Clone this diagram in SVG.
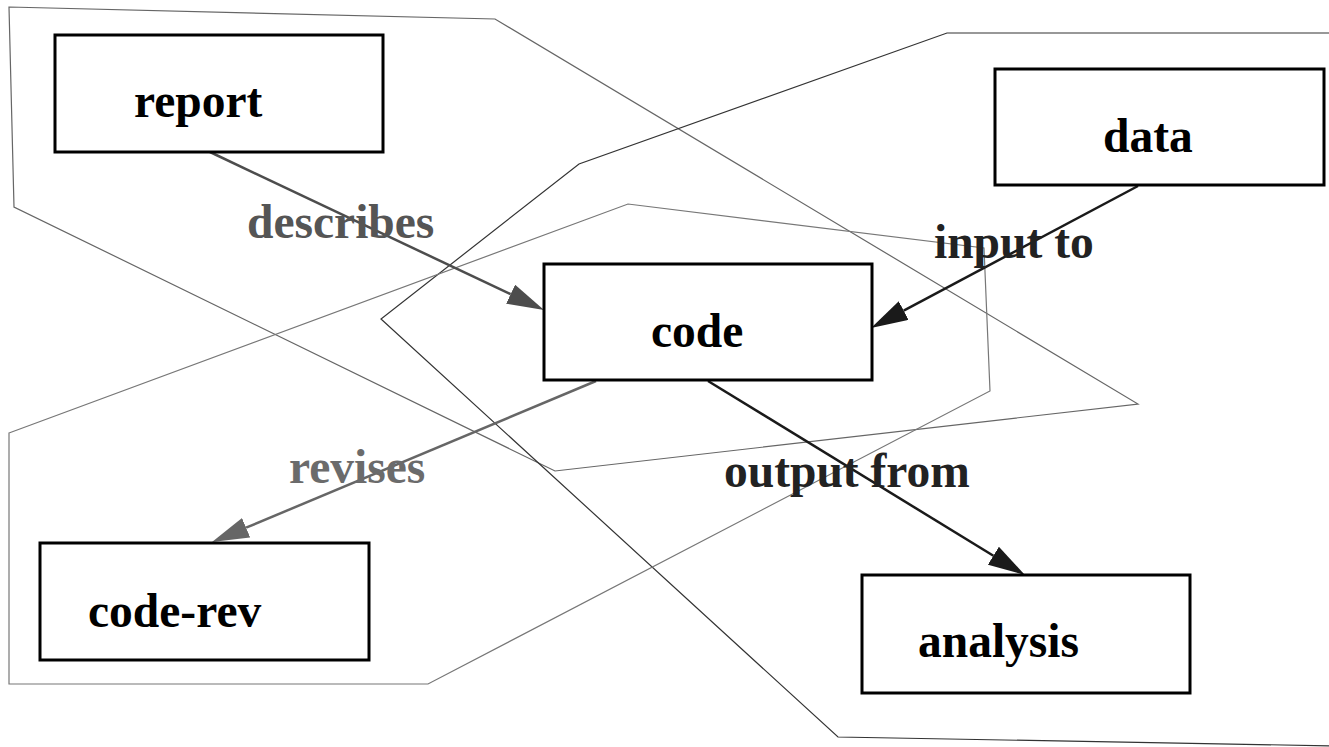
<svg xmlns="http://www.w3.org/2000/svg" width="1329" height="747" viewBox="0 0 1329 747">
  <style>
    .node rect { fill: #ffffff; stroke: #000000; stroke-width: 3; }
    .node text { font-family: "Liberation Serif", serif; font-weight: bold; font-size: 47.5px; fill: #000000; }
    .hull { fill: none; stroke-linejoin: miter; }
    .edge { fill: none; stroke-width: 2.5; }
    .elabel { font-family: "Liberation Serif", serif; font-weight: bold; font-size: 47.5px; }
  </style>
  <defs>
    <!-- arrowheads: base sits on the line end, tip points along the line -->
    <marker id="arr-mid" viewBox="0 0 10 10" refX="0" refY="5" markerWidth="37" markerHeight="21" markerUnits="userSpaceOnUse" orient="auto" preserveAspectRatio="none">
      <path d="M0,0 L10,5 L0,10 z" fill="#4d4d4d"/>
    </marker>
    <marker id="arr-dark" viewBox="0 0 10 10" refX="0" refY="5" markerWidth="37" markerHeight="21" markerUnits="userSpaceOnUse" orient="auto" preserveAspectRatio="none">
      <path d="M0,0 L10,5 L0,10 z" fill="#1a1a1a"/>
    </marker>
    <marker id="arr-light" viewBox="0 0 10 10" refX="0" refY="5" markerWidth="37" markerHeight="21" markerUnits="userSpaceOnUse" orient="auto" preserveAspectRatio="none">
      <path d="M0,0 L10,5 L0,10 z" fill="#666666"/>
    </marker>
  </defs>

  <rect width="1329" height="747" fill="#ffffff"/>

  <!-- group outlines -->
  <g id="hulls">
    <polygon class="hull" stroke="#666666" stroke-width="1.2" points="9,7 495,19 1138,404 555,471 14,207"/>
    <polyline class="hull" stroke="#333333" stroke-width="1.2" points="1340,33 947,33 579,164 381,319 838,737 1340,746"/>
    <polygon class="hull" stroke="#777777" stroke-width="1.2" points="9,433 628,204 984,248 990,391 428,684 9,684"/>
  </g>

  <!-- connectors -->
  <g id="edges">
    <line class="edge" stroke="#4d4d4d" x1="210" y1="152" x2="510.6" y2="294.2" marker-end="url(#arr-mid)"/>
    <line class="edge" stroke="#1a1a1a" x1="1138" y1="186" x2="903.7" y2="310.6" marker-end="url(#arr-dark)"/>
    <line class="edge" stroke="#666666" x1="596" y1="381" x2="246.1" y2="527.7" marker-end="url(#arr-light)"/>
    <line class="edge" stroke="#1a1a1a" x1="708" y1="381" x2="993.4" y2="555.7" marker-end="url(#arr-dark)"/>
    <text class="elabel" fill="#555555" x="247" y="238">describes</text>
    <text class="elabel" fill="#222222" x="934" y="258">input to</text>
    <text class="elabel" fill="#6b6b6b" x="289" y="483">revises</text>
    <text class="elabel" fill="#222222" x="724" y="487">output from</text>
  </g>

  <g id="report" class="node">
    <rect x="55" y="35" width="328" height="117"/>
    <text x="134" y="117">report</text>
  </g>
  <g id="data" class="node">
    <rect x="995" y="69" width="329" height="116"/>
    <text x="1103" y="152">data</text>
  </g>
  <g id="code" class="node">
    <rect x="544" y="264" width="328" height="116"/>
    <text x="651" y="347">code</text>
  </g>
  <g id="code-rev" class="node">
    <rect x="40" y="543" width="329" height="117"/>
    <text x="88" y="627">code-rev</text>
  </g>
  <g id="analysis" class="node">
    <rect x="862" y="575" width="328" height="118"/>
    <text x="918" y="657">analysis</text>
  </g>
</svg>
